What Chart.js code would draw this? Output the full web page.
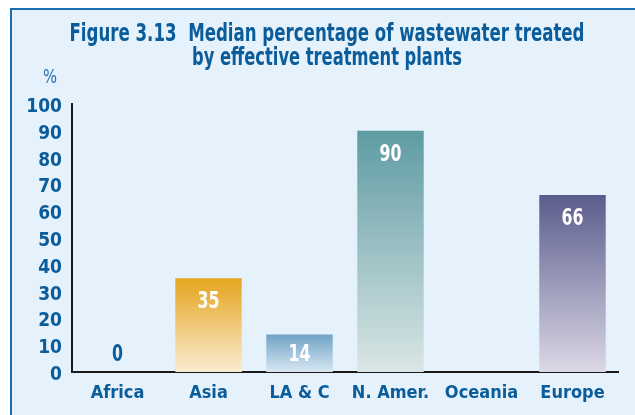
<!DOCTYPE html>
<html>
<head>
<meta charset="utf-8">
<script src="https://cdn.jsdelivr.net/npm/chart.js@4/dist/chart.umd.min.js"></script>
<style>
  body { margin: 0; background: #fff; }
  canvas { display: block; }
</style>
</head>
<body>
<canvas id="chart" width="635" height="415"></canvas>
<script>
// data
const regions = ["Africa", "Asia", "LA & C", "N. Amer.", "Oceania", "Europe"];
const medianTreated = [0, 35, 14, 90, null, 66];
const yTicks = [0, 10, 20, 30, 40, 50, 60, 70, 80, 90, 100];
const titleLines = ["Figure 3.13  Median percentage of wastewater treated", "by effective treatment plants"];

// bar gradient colours (top -> bottom)
const topColors = ["#E5A51E", "#E5A51E", "#6FA2C5", "#5E9BA3", "#999999", "#5A5C8C"];
const bottomColors = ["#FAEBD2", "#FAEBD2", "#D8E7F2", "#DAE6E5", "#DDDDDD", "#DCD8E6"];

const BLUE = "#0B5C9A";

// pick a condensed face if one is installed
function hasFont(name) {
  const c = document.createElement("canvas").getContext("2d");
  const s = "Figure 3.13 Median wastewater";
  c.font = "bold 20px monospace";
  const base = c.measureText(s).width;
  c.font = "bold 20px '" + name + "', monospace";
  return Math.abs(c.measureText(s).width - base) > 0.5;
}
const narrowCandidates = ["Liberation Sans Narrow", "DejaVu Sans Condensed", "Roboto Condensed", "Arial Narrow"];
let FONT = null;
let fontName = "";
for (const f of narrowCandidates) {
  if (hasFont(f)) { FONT = "'" + f + "'"; fontName = f; break; }
}
if (!FONT) FONT = "'Liberation Sans', Arial, sans-serif";
const tickSize = fontName === "Liberation Sans Narrow" ? 21 : 18;

function barFill(c) {
  const chart = c.chart;
  const i = c.dataIndex;
  const v = medianTreated[i];
  if (v == null) return "rgba(0,0,0,0)";
  const y = chart.scales.y;
  if (!y || !chart.chartArea) return topColors[i];
  const yTop = y.getPixelForValue(v);
  const yBot = y.getPixelForValue(0);
  if (yBot - yTop < 1) return topColors[i];
  const g = chart.ctx.createLinearGradient(0, yTop, 0, yBot);
  g.addColorStop(0, topColors[i]);
  g.addColorStop(1, bottomColors[i]);
  return g;
}

// draw text squeezed to a target width (mimics the condensed face of the original)
function squeezeText(ctx, text, cx, y, targetW) {
  const w = ctx.measureText(text).width;
  const sx = Math.min(1, targetW / w);
  ctx.save();
  ctx.translate(cx, y);
  ctx.scale(sx, 1);
  ctx.fillText(text, 0, 0);
  ctx.restore();
}

// frame, background, title and "%" unit
const framePlugin = {
  id: "frame",
  beforeDraw(chart) {
    const ctx = chart.ctx;
    ctx.save();
    ctx.fillStyle = "#ffffff";
    ctx.fillRect(0, 0, chart.width, chart.height);
    ctx.fillStyle = "#E5F1FB";
    ctx.fillRect(10, 8, chart.width - 10, chart.height - 8);
    ctx.strokeStyle = "#1C6DB0";
    ctx.lineWidth = 2;
    ctx.beginPath();
    ctx.moveTo(11, chart.height);
    ctx.lineTo(11, 9);
    ctx.lineTo(chart.width, 9);
    ctx.stroke();

    ctx.fillStyle = BLUE;
    ctx.textAlign = "center";
    ctx.textBaseline = "alphabetic";
    ctx.font = "bold 25px " + FONT;
    squeezeText(ctx, titleLines[0], 327, 41, 515);
    squeezeText(ctx, titleLines[1], 327, 65, 270);

    ctx.fillStyle = "#2A72B5";
    ctx.font = "19px " + FONT;
    squeezeText(ctx, "%", 50, 83, 14);
    ctx.restore();
  }
};

// value labels inside the bars
const valuePlugin = {
  id: "values",
  afterDatasetsDraw(chart) {
    const ctx = chart.ctx;
    const meta = chart.getDatasetMeta(0);
    const zeroY = chart.scales.y.getPixelForValue(0);
    ctx.save();
    ctx.font = "bold 23px " + FONT;
    ctx.textAlign = "center";
    ctx.textBaseline = "middle";
    meta.data.forEach((bar, i) => {
      const v = medianTreated[i];
      if (v == null) return;
      const y = Math.min(bar.y + 24, zeroY - 17);
      ctx.fillStyle = v > 0 ? "#ffffff" : BLUE;
      squeezeText(ctx, String(v), bar.x, y, String(v).length * 11);
    });
    ctx.restore();
  }
};

new Chart(document.getElementById("chart"), {
  type: "bar",
  data: {
    labels: regions,
    datasets: [{
      data: medianTreated,
      backgroundColor: barFill,
      borderWidth: 0,
      barPercentage: 0.73,
      categoryPercentage: 1
    }]
  },
  options: {
    responsive: false,
    animation: false,
    layout: { padding: { top: 104, right: 17, left: 0, bottom: 0 } },
    plugins: {
      legend: { display: false },
      tooltip: { enabled: false }
    },
    scales: {
      x: {
        grid: { display: false, drawTicks: false },
        border: { display: true, color: "#1a1a1a", width: 2 },
        ticks: {
          color: BLUE,
          font: { family: FONT, size: tickSize, weight: "bold" },
          padding: 11,
          autoSkip: false,
          maxRotation: 0,
          minRotation: 0
        },
        afterFit(s) { s.height = 43; }
      },
      y: {
        min: 0,
        max: 100,
        afterBuildTicks(s) { s.ticks = yTicks.map(v => ({ value: v })); },
        grid: { display: false, drawTicks: false },
        border: { display: true, color: "#1a1a1a", width: 2 },
        ticks: {
          color: BLUE,
          font: { family: FONT, size: tickSize + 1, weight: "bold" },
          padding: 10,
          autoSkip: false,
          labelOffset: 3
        },
        afterFit(s) { s.width = 72; }
      }
    }
  },
  plugins: [framePlugin, valuePlugin]
});
</script>
</body>
</html>
